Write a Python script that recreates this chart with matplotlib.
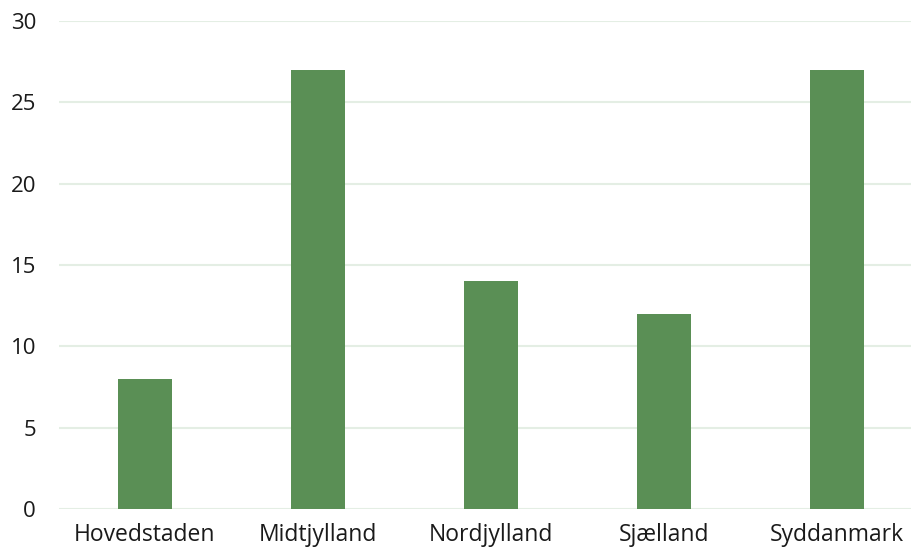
import matplotlib
matplotlib.use("Agg")
import matplotlib.pyplot as plt

categories = ["Hovedstaden", "Midtjylland", "Nordjylland", "Sjælland", "Syddanmark"]
values = [8, 27, 14, 12, 27]
yticks = [0, 5, 10, 15, 20, 25, 30]

plt.rcParams['font.family'] = ['Open Sans', 'DejaVu Sans']

fig = plt.figure(figsize=(9.12, 5.49), dpi=100)
W, H = 912, 549
left, right = 59, 912
bottom, top = 509, 21
ax = fig.add_axes([left / W, (H - bottom) / H, (right - left) / W, (bottom - top) / H])

x = list(range(len(categories)))
ax.bar(x, values, width=54 / 173, color="#5a8f55", zorder=3)

ax.set_ylim(0, 30)
ax.set_xlim(-(145 - left) / 173, 4 + (right - 837) / 173)
ax.set_yticks(yticks)
ax.set_yticklabels([str(t) for t in yticks])
ax.set_xticks(x)
ax.set_xticklabels(categories)
ax.grid(axis="y", color="#e4eee4", linewidth=1.5, zorder=0)
ax.set_axisbelow(True)
for s in ax.spines.values():
    s.set_visible(False)
ax.tick_params(axis="both", length=0, colors="#1a1a1a")
ax.tick_params(axis="y", pad=16.5, labelsize=16)
ax.tick_params(axis="x", pad=10, labelsize=16.5)

fig.savefig("out.png", dpi=100)
